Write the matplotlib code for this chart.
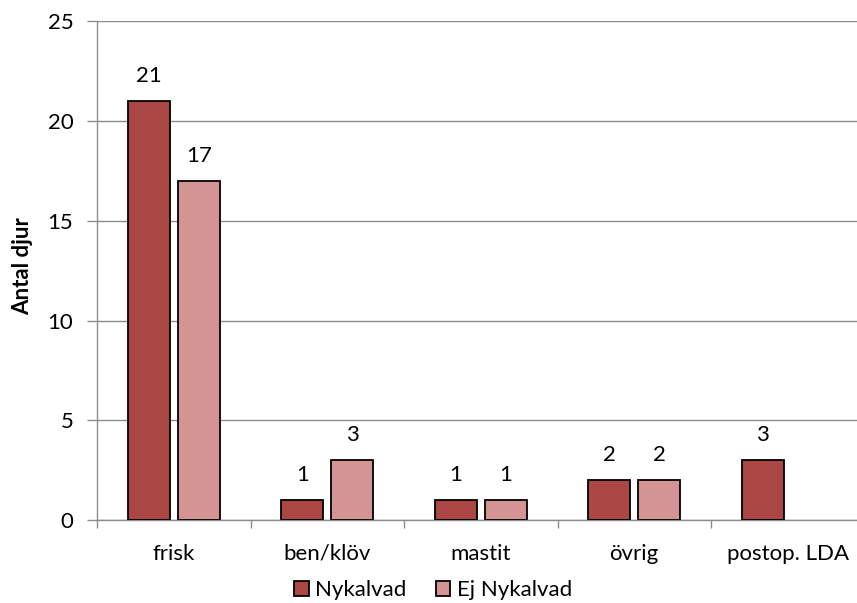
import numpy as np
import matplotlib
matplotlib.use("Agg")
import matplotlib.pyplot as plt
from matplotlib.ticker import FixedLocator, NullFormatter

categories = ["frisk", "ben/klöv", "mastit", "övrig", "postop. LDA"]
nykalvad = [21, 1, 1, 2, 3]
ej_nykalvad = [17, 3, 1, 2, np.nan]
series_names = ["Nykalvad", "Ej Nykalvad"]
y_ticks = [0, 5, 10, 15, 20, 25]

plt.rcParams["font.family"] = ["Lato", "DejaVu Sans"]
FS = 16

W, H = 857, 603
fig = plt.figure(figsize=(W / 100, H / 100), dpi=100)
# plot area runs slightly past the right edge of the canvas
ax = fig.add_axes([97 / W, 1 - 520 / H, 767.5 / W, 498.7 / H])

x = np.arange(len(categories))
w = 0.274
off = 0.163
colors = ["#AA4744", "#D49493"]

for vals, sign, col, name in zip([nykalvad, ej_nykalvad], [-1, 1], colors, series_names):
    vals = np.array(vals, dtype=float)
    ax.bar(x + sign * off, vals, width=w, color=col, edgecolor="black",
           linewidth=1.3, label=name, zorder=3)
    for xi, v in zip(x + sign * off, vals):
        if not np.isnan(v):
            ax.annotate(f"{int(v)}", (xi, v), xytext=(0, 11),
                        textcoords="offset points", ha="center", va="bottom",
                        fontsize=FS)

ax.set_xlim(-0.5, len(categories) - 0.5)
ax.set_ylim(0, 25)
ax.set_yticks(y_ticks)
ax.yaxis.grid(True, color="#8c8c8c", linewidth=1.0, zorder=0)
ax.set_axisbelow(True)

for s in ["top", "right"]:
    ax.spines[s].set_visible(False)
for s in ["left", "bottom"]:
    ax.spines[s].set_color("#8c8c8c")
    ax.spines[s].set_linewidth(1.0)

ax.set_xticks(x)
ax.set_xticklabels(categories, fontsize=FS)
ax.tick_params(axis="x", which="major", length=0, pad=17)
ax.xaxis.set_minor_locator(FixedLocator(np.arange(-0.5, len(categories) + 0.5, 1.0)))
ax.xaxis.set_minor_formatter(NullFormatter())
ax.tick_params(axis="x", which="minor", length=6, color="#8c8c8c", width=1.0)
ax.tick_params(axis="y", length=7, color="#8c8c8c", width=1.0, labelsize=FS, pad=10)

fig.text(23 / W, 1 - 266 / H, "Antal djur", rotation=90, ha="center", va="center",
         fontsize=FS, fontweight="bold")

fig.legend(loc="center", bbox_to_anchor=(433 / W, 1 - 590 / H), ncol=2,
           frameon=False, fontsize=FS, handlelength=0.65, handleheight=0.65,
           handletextpad=0.3, columnspacing=1.3, borderaxespad=0, borderpad=0)

fig.savefig("out.png", dpi=100)
